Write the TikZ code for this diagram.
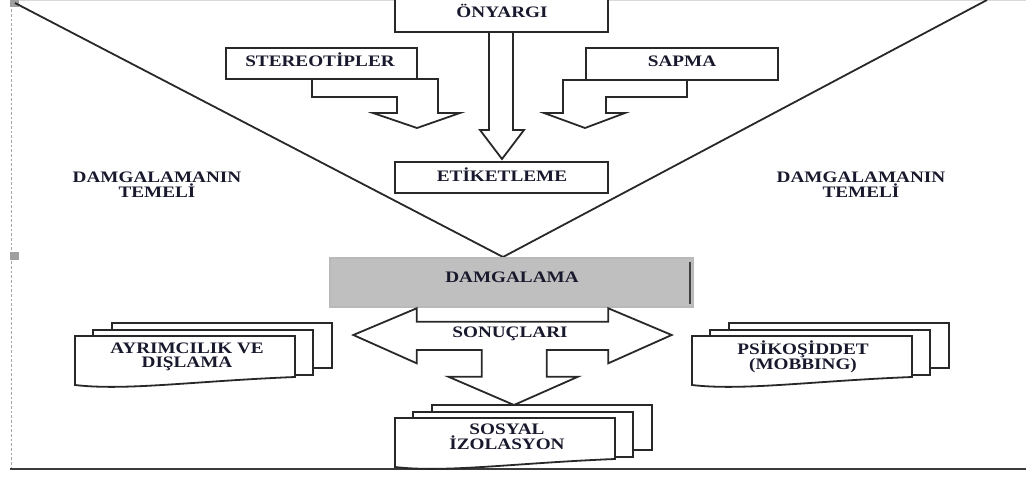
\documentclass[tikz,border=0pt]{standalone}
\usepackage{fontspec}
\setmainfont{Liberation Serif}[FakeStretch=1.2]
\definecolor{lc}{RGB}{40,40,40}
\definecolor{txt}{RGB}{25,25,45}
\definecolor{dg}{RGB}{191,191,191}
\tikzset{
  lbl/.style={font=\fontsize{12}{11}\selectfont\bfseries, text=txt, align=center, inner sep=0pt},
  ln/.style={draw=lc, line width=1.35pt, line join=miter},
  wbox/.style={ln, fill=white},
}
\newcommand\docstack[2]{%
  \draw[wbox] ({#1+37},{#2-13}) rectangle ({#1+257},{#2+32});
  \draw[wbox] ({#1+18},{#2-6}) rectangle ({#1+238},{#2+39});
  \draw[wbox] (#1,#2) -- ({#1+220},#2) -- ({#1+220},{#2+41})
     .. controls ({#1+120},{#2+45}) and ({#1+50},{#2+55}) .. (#1,{#2+49}) -- cycle;
}
\begin{document}
\begin{tikzpicture}[x=0.75pt,y=-0.75pt]
\useasboundingbox (0,0) rectangle (1026,477);
% frame marks
\draw[gray!30, line width=0.6pt] (11,0.6) -- (1026,0.6);
\draw[gray!70, line width=0.5pt, dash pattern=on 2pt off 1.5pt] (11,0) -- (11,469);
\fill[gray!75] (10,0) rectangle (19,7);
\fill[gray!75] (10,252) rectangle (19,260);
\fill[gray!75] (518,0) rectangle (528,7);
\draw[draw={rgb,255:red,60;green,60;blue,60}, line width=1.6pt] (10,469) -- (1026,469);

% V lines
\coordinate (vl) at (15,3);
\coordinate (vr) at (987,0);
\coordinate (apex) at (503,257);
\draw[ln] (vl) -- (apex) -- (vr);

% ONYARGI
\draw[wbox] (395,-3) rectangle (608,32);
\node[lbl, anchor=base] (onyargi) at (502,18) {ÖNYARGI};
% STEREOTIPLER
\draw[wbox] (226,48) rectangle (417,79);
\node[lbl, anchor=base] (stereo) at (320,67) {STEREOTİPLER};
% SAPMA
\draw[wbox] (586,48) rectangle (778,80);
\node[lbl, anchor=base] (sapma) at (682,67) {SAPMA};
% ETIKETLEME
\draw[wbox] (395,162) rectangle (608,193);
\node[lbl, anchor=base] (etiket) at (502,182) {ETİKETLEME};

% block arrows
\draw[ln] (312,79) -- (312,97) -- (397,97) -- (397,113) -- (373,113) -- (417,128)
  -- (460,113) -- (438,113) -- (438,79) -- (417,79);
\draw[ln] (687,80) -- (687,97) -- (606,97) -- (606,113) -- (625,113) -- (585,128)
  -- (544,113) -- (563,113) -- (563,80) -- (586,80);
\draw[ln] (489,32) -- (489,130) -- (480,130) -- (502,159) -- (524,130) -- (513,130) -- (513,32);

% DAMGALAMANIN TEMELI
\node[lbl] (temL) at (157,185) {DAMGALAMANIN\\TEMELİ};
\node[lbl] (temR) at (861,185) {DAMGALAMANIN\\TEMELİ};

% DAMGALAMA
\draw[fill=dg, draw=gray!55, line width=1.2pt] (330,258) rectangle (693,307);
\draw[gray!50!black, line width=1pt] (690,262) -- (690,304);
\node[lbl, anchor=base] (damga) at (512,283) {DAMGALAMA};

% SONUCLARI arrow
\draw[ln, fill=white] (416.7,308.3) -- (353.3,335) -- (416.7,363.3) -- (416.7,350)
  -- (481.7,350) -- (481.7,376.7) -- (448.3,376.7) -- (514,405) -- (578,376.7)
  -- (546.7,376.7) -- (546.7,350) -- (608.3,350) -- (608.3,363.3) -- (671.7,335)
  -- (608.3,308.3) -- (608.3,321.7) -- (416.7,321.7) -- cycle;
\node[lbl, anchor=base] (sonuc) at (510,338) {SONUÇLARI};

% document stacks
\docstack{75}{336}
\node[lbl] (ayrim) at (187,357) {AYRIMCILIK VE\\DIŞLAMA};
\docstack{692}{336}
\node[lbl] (psiko) at (803,357) {PSİKOŞİDDET\\(MOBBING)};
\docstack{395}{418}
\node[lbl] (sosyal) at (507,437) {SOSYAL\\İZOLASYON};
\end{tikzpicture}
\end{document}
